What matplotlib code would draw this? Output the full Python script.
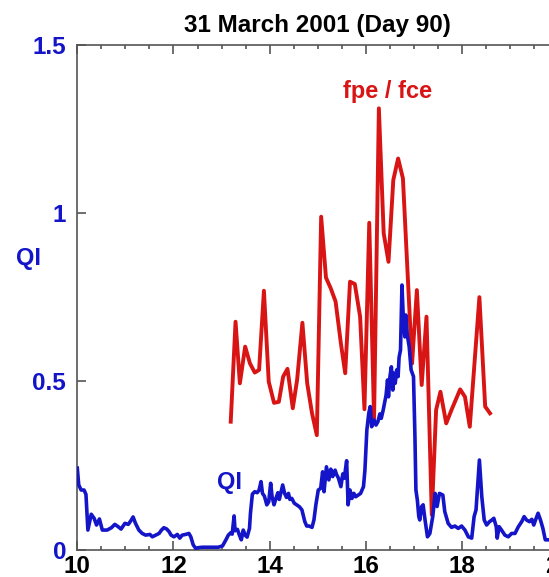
import matplotlib
matplotlib.use("Agg")
import matplotlib.pyplot as plt
from matplotlib.ticker import MultipleLocator

plt.rcParams['font.family'] = ['Liberation Sans', 'DejaVu Sans']
plt.rcParams['font.weight'] = 'bold'

#Data

# QI, blue trace
qi_time = [10.00, 10.03, 10.08, 10.14, 10.18, 10.22, 10.29, 10.35, 10.40, 10.46,
           10.52, 10.62, 10.71, 10.78, 10.85, 10.91, 10.99, 11.06, 11.11, 11.16,
           11.21, 11.28, 11.35, 11.42, 11.51, 11.56, 11.63, 11.70, 11.75, 11.80,
           11.86, 11.91, 11.95, 12.01, 12.08, 12.13, 12.18, 12.25, 12.32, 12.36,
           12.41, 12.46, 12.53, 12.60, 12.69, 12.83, 12.93, 13.02, 13.09, 13.14,
           13.19, 13.22, 13.26, 13.28, 13.33, 13.37, 13.41, 13.45, 13.49, 13.53,
           13.58, 13.60, 13.64, 13.69, 13.74, 13.78, 13.82, 13.85, 13.89, 13.94,
           13.98, 14.02, 14.05, 14.09, 14.13, 14.17, 14.20, 14.23, 14.27, 14.31,
           14.35, 14.39, 14.42, 14.46, 14.51, 14.56, 14.62, 14.67, 14.70, 14.73,
           14.77, 14.82, 14.88, 14.92, 14.96, 15.01, 15.06, 15.10, 15.13, 15.18,
           15.23, 15.27, 15.31, 15.36, 15.39, 15.43, 15.48, 15.52, 15.55, 15.60,
           15.63, 15.67, 15.71, 15.75, 15.79, 15.84, 15.89, 15.95, 15.98, 16.02,
           16.06, 16.09, 16.12, 16.17, 16.21, 16.25, 16.29, 16.32, 16.36, 16.42,
           16.45, 16.47, 16.50, 16.53, 16.56, 16.58, 16.61, 16.64, 16.67, 16.69,
           16.72, 16.75, 16.78, 16.81, 16.83, 16.86, 16.90, 16.94, 16.99, 17.02,
           17.04, 17.07, 17.10, 17.12, 17.16, 17.19, 17.23, 17.28, 17.33, 17.39,
           17.44, 17.48, 17.53, 17.60, 17.64, 17.71, 17.78, 17.85, 17.92, 17.99,
           18.06, 18.13, 18.20, 18.25, 18.29, 18.36, 18.41, 18.46, 18.51, 18.57,
           18.62, 18.66, 18.71, 18.73, 18.77, 18.82, 18.89, 18.96, 19.03, 19.10,
           19.17, 19.24, 19.29, 19.34, 19.40, 19.45, 19.49, 19.54, 19.58, 19.63,
           19.68, 19.73, 19.80]
qi_values = [0.242, 0.192, 0.177, 0.177, 0.164, 0.058, 0.105, 0.093, 0.073, 0.091,
             0.058, 0.058, 0.065, 0.075, 0.068, 0.061, 0.078, 0.075, 0.085, 0.097,
             0.078, 0.058, 0.048, 0.043, 0.045, 0.038, 0.043, 0.048, 0.058, 0.065,
             0.061, 0.053, 0.043, 0.038, 0.045, 0.034, 0.043, 0.045, 0.048, 0.038,
             0.014, 0.004, 0.006, 0.007, 0.007, 0.007, 0.007, 0.011, 0.029, 0.043,
             0.050, 0.046, 0.100, 0.056, 0.060, 0.043, 0.029, 0.058, 0.043, 0.037,
             0.063, 0.108, 0.165, 0.172, 0.169, 0.177, 0.202, 0.167, 0.159, 0.133,
             0.142, 0.197, 0.157, 0.133, 0.152, 0.169, 0.149, 0.167, 0.192, 0.167,
             0.155, 0.167, 0.149, 0.152, 0.138, 0.133, 0.127, 0.118, 0.100, 0.083,
             0.070, 0.070, 0.066, 0.088, 0.133, 0.177, 0.182, 0.231, 0.172, 0.246,
             0.207, 0.239, 0.217, 0.236, 0.223, 0.212, 0.187, 0.225, 0.212, 0.264,
             0.133, 0.177, 0.152, 0.167, 0.157, 0.162, 0.167, 0.187, 0.236, 0.355,
             0.405, 0.425, 0.365, 0.385, 0.370, 0.380, 0.403, 0.390, 0.415, 0.459,
             0.504, 0.454, 0.514, 0.543, 0.474, 0.524, 0.494, 0.534, 0.514, 0.571,
             0.593, 0.786, 0.682, 0.632, 0.697, 0.638, 0.603, 0.534, 0.514, 0.335,
             0.177, 0.147, 0.098, 0.088, 0.128, 0.133, 0.088, 0.038, 0.048, 0.098,
             0.167, 0.128, 0.167, 0.162, 0.113, 0.078, 0.066, 0.070, 0.063, 0.070,
             0.058, 0.038, 0.034, 0.098, 0.118, 0.266, 0.157, 0.088, 0.073, 0.083,
             0.088, 0.093, 0.068, 0.034, 0.068, 0.058, 0.043, 0.038, 0.048, 0.048,
             0.068, 0.083, 0.098, 0.088, 0.083, 0.090, 0.073, 0.093, 0.108, 0.088,
             0.063, 0.029, 0.029]

# fpe / fce, red trace
ratio_time = [13.19, 13.29, 13.38, 13.49, 13.59, 13.69, 13.78, 13.88, 13.98, 14.09,
              14.19, 14.28, 14.37, 14.48, 14.57, 14.68, 14.78, 14.88, 14.98, 15.07,
              15.17, 15.27, 15.37, 15.48, 15.57, 15.67, 15.77, 15.88, 15.97, 16.07,
              16.17, 16.27, 16.37, 16.47, 16.57, 16.67, 16.77, 16.96, 17.06, 17.16,
              17.26, 17.37, 17.46, 17.55, 17.67, 17.78, 17.96, 18.06, 18.16, 18.36,
              18.48, 18.58]
ratio_values = [0.380, 0.677, 0.494, 0.603, 0.553, 0.526, 0.534, 0.769, 0.499, 0.436,
                0.439, 0.514, 0.537, 0.420, 0.504, 0.674, 0.494, 0.405, 0.340, 0.989,
                0.808, 0.776, 0.737, 0.613, 0.524, 0.796, 0.789, 0.692, 0.417, 0.971,
                0.390, 1.311, 0.940, 0.855, 1.098, 1.162, 1.103, 0.553, 0.771, 0.489,
                0.692, 0.103, 0.415, 0.469, 0.375, 0.415, 0.476, 0.454, 0.365, 0.750,
                0.425, 0.405]

y_ticks = [0, 0.5, 1, 1.5]
y_tick_labels = ['0', '0.5', '1', '1.5']
x_ticks = [10, 12, 14, 16, 18, 20]

blue = '#1414c8'
red = '#d81414'
spine_col = '#555555'

#Plot

fig = plt.figure(figsize=(5.49, 5.77), dpi=100)
# the axis runs on past the right edge of the picture, as in the original crop
ax = fig.add_axes([0.1408, 0.0475, 0.8761, 0.8750])

ax.plot(ratio_time, ratio_values, color=red, lw=2.8, zorder=2)
ax.plot(qi_time, qi_values, color=blue, lw=2.6, zorder=3)

ax.set_xlim(10, 20)
ax.set_ylim(0, 1.5)

ax.set_xticks(x_ticks)
ax.xaxis.set_minor_locator(MultipleLocator(0.5))
ax.set_yticks(y_ticks)
ax.set_yticklabels(y_tick_labels)

ax.tick_params(axis='x', which='major', direction='in', length=6.5, width=1.2,
               top=True, color=spine_col, labelsize=17.5, pad=4, labelcolor='black')
ax.tick_params(axis='x', which='minor', direction='in', length=3, width=1.2,
               top=True, color=spine_col)
ax.tick_params(axis='y', which='major', direction='in', length=6.5, width=1.2,
               color=spine_col, labelsize=17.5, pad=8, labelcolor=blue)
for lab in ax.get_xticklabels() + ax.get_yticklabels():
    lab.set_fontweight('bold')

for s in ax.spines.values():
    s.set_color(spine_col)
    s.set_linewidth(1.2)

ax.set_title('31 March 2001 (Day 90)', fontsize=17.5, fontweight='bold', pad=9)

ax.text(16.46, 1.362, 'fpe / fce', color=red, fontsize=17, fontweight='bold',
        ha='center', va='center')
ax.text(13.16, 0.198, 'QI', color=blue, fontsize=17, fontweight='bold',
        ha='center', va='center')
fig.text(28 / 549, 1 - 258 / 577, 'QI', color=blue, fontsize=17,
         fontweight='bold', ha='center', va='center')

fig.savefig('out.png', dpi=100)
